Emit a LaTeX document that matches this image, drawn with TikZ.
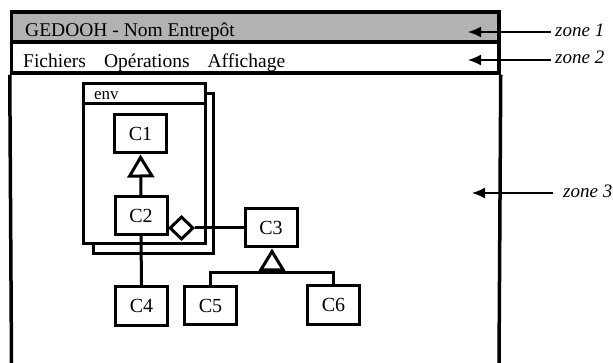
\documentclass[tikz,border=0pt]{standalone}
\usepackage{fontspec}
\setmainfont{Liberation Serif}
\usetikzlibrary{arrows.meta,shapes.geometric}
\begin{document}
\begin{tikzpicture}[x=1pt,y=-1pt,
  frameline/.style={line width=3.5pt},
  cls/.style={draw, line width=3pt, fill=white, minimum width=52pt, minimum height=38pt, inner sep=0pt, font=\fontsize{20}{20}\selectfont},
  zonearrow/.style={line width=1.4pt, -{Latex[length=13pt,width=11pt]}},
  zonelabel/.style={anchor=base west, font=\itshape\fontsize{19}{19}\selectfont, inner sep=0pt},
  bartext/.style={anchor=base west, font=\fontsize{19.5}{19.5}\selectfont, inner sep=0pt},
  link/.style={line width=3pt},
  gentip/.style={-{Triangle[open, length=23pt, width=27pt]}},
]
\useasboundingbox (0,0) rectangle (613,363);

% window
\node[draw, frameline, fill=black!30, minimum width=487.5pt, minimum height=30pt, inner sep=0pt] (bar1) at (255.25,27) {};
\node[draw, frameline, minimum width=487.5pt, minimum height=31pt, inner sep=0pt] (bar2) at (255.25,57.5) {};
\coordinate (bl) at (11.5,363);
\coordinate (br) at (499,363);
\draw[frameline] (bar2.south west) -- (bl);
\draw[frameline] (bar2.south east) -- (br);

\node[bartext] (title) at (25,37) {GEDOOH - Nom Entrepôt};
\node[bartext] (menu) at (23,68) {Fichiers\hspace{18pt}Opérations\hspace{18pt}Affichage};

% zone labels
\node[zonelabel] (z1) at (555,37) {zone 1};
\node[zonelabel] (z2) at (555,64) {zone 2};
\node[zonelabel] (z3) at (563,198) {zone 3};
\coordinate (z1tip) at (468,32);
\coordinate (z2tip) at (468,60);
\coordinate (z3tip) at (472,193);
\draw[zonearrow] (z1.west |- z1tip) ++(-4,0) -- (z1tip);
\draw[zonearrow] (z2.west |- z2tip) ++(-4,0) -- (z2tip);
\draw[zonearrow] (z3.west |- z3tip) ++(-10,0) -- (z3tip);

% env package with shadow
\node[draw, line width=3pt, fill=white, minimum width=120pt, minimum height=160pt, inner sep=0pt] (envshadow) at (153.5,174) {};
\node[draw, line width=3pt, fill=white, minimum width=121.5pt, minimum height=160pt, inner sep=0pt] (env) at (144.25,163.5) {};
\draw[line width=3pt] (env.north west) ++(0,21.5) coordinate (hl) -- (hl -| env.east);
\node[anchor=base west, inner sep=0pt, font=\fontsize{17}{17}\selectfont] (envlabel) at (94,100) {env};

% classes
\node[cls] (C1) at (140.5,134) {C1};
\node[cls] (C2) at (141,215.5) {C2};
\node[cls] (C3) at (271,228) {C3};
\node[cls] (C4) at (141.5,306) {C4};
\node[cls] (C5) at (210.5,305.5) {C5};
\node[cls] (C6) at (333.5,305) {C6};

% C2 -> C1 generalization
\draw[link, gentip] (C2.north) -- (C1.south);
% C2 -- C4
\draw[link] (C2.south) -- (C4.north);
% aggregation C2 -- C3
\node[draw, diamond, line width=3pt, fill=white, minimum width=24pt, minimum height=23pt, inner sep=0pt] (agg) at (181.5,228) {};
\draw[link] (agg.east) -- (C3.west);
% C3 generalization
\coordinate (fork) at (272,272.5);
\draw[link] (C5.north) |- (fork) -| (C6.north);
\draw[link, gentip] (fork) -- (fork |- C3.south);
\end{tikzpicture}
\end{document}
